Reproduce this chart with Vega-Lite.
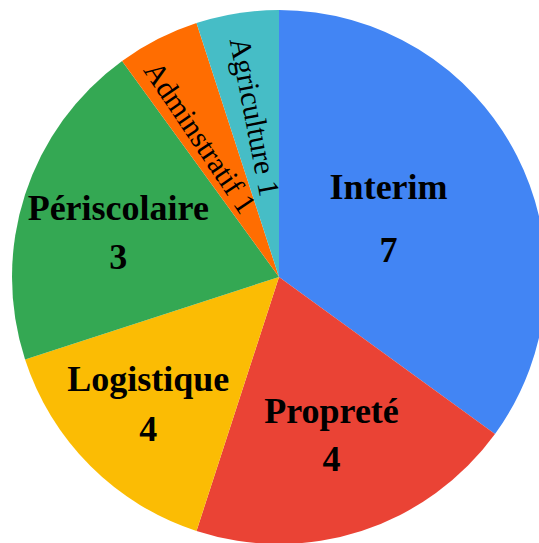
{
  "$schema": "https://vega.github.io/schema/vega-lite/v6.json",
  "autosize": {"type": "fit", "contains": "padding"},
  "width": 539,
  "height": 543,
  "padding": {"left": 19, "top": 11, "right": 0, "bottom": 0},
  "background": "white",
  "view": {"stroke": null},
  "data": {
    "values": [
      {"category": "Interim", "rank": 1, "slice": 7, "shown": "7", "label": "Interim"},
      {"category": "Propreté", "rank": 2, "slice": 4, "shown": "4", "label": "Propreté"},
      {"category": "Logistique", "rank": 3, "slice": 3, "shown": "4", "label": "Logistique"},
      {"category": "Périscolaire", "rank": 4, "slice": 4, "shown": "3", "label": "Périscolaire"},
      {"category": "Adminstratif", "rank": 5, "slice": 1, "shown": "1", "label": "Adminstratif 1"},
      {"category": "Agriculture", "rank": 6, "slice": 1, "shown": "1", "label": "Agriculture 1"}
    ]
  },
  "encoding": {
    "theta": {"field": "slice", "type": "quantitative", "stack": true},
    "order": {"field": "rank", "type": "quantitative"}
  },
  "layer": [
    {
      "mark": {"type": "arc", "outerRadius": 267},
      "encoding": {
        "color": {
          "field": "category",
          "type": "nominal",
          "legend": null,
          "scale": {
            "domain": ["Interim", "Propreté", "Logistique", "Périscolaire", "Adminstratif", "Agriculture"],
            "range": ["#4285F4", "#EA4335", "#FBBC04", "#34A853", "#FF6D01", "#46BDC6"]
          }
        }
      }
    },
    {
      "mark": {"type": "text", "radius": 123, "dy": -33, "font": "Liberation Serif", "fontWeight": "bold", "fontSize": 36, "color": "black"},
      "encoding": {"text": {"condition": {"test": "datum.category === 'Interim'", "field": "label"}, "value": ""}}
    },
    {
      "mark": {"type": "text", "radius": 123, "dy": 30, "font": "Liberation Serif", "fontWeight": "bold", "fontSize": 36, "color": "black"},
      "encoding": {"text": {"condition": {"test": "datum.category === 'Interim'", "field": "shown"}, "value": ""}}
    },
    {
      "mark": {"type": "text", "radius": 170, "dy": -27, "font": "Liberation Serif", "fontWeight": "bold", "fontSize": 36, "color": "black"},
      "encoding": {"text": {"condition": {"test": "datum.category === 'Propreté'", "field": "label"}, "value": ""}}
    },
    {
      "mark": {"type": "text", "radius": 170, "dy": 21, "font": "Liberation Serif", "fontWeight": "bold", "fontSize": 36, "color": "black"},
      "encoding": {"text": {"condition": {"test": "datum.category === 'Propreté'", "field": "shown"}, "value": ""}}
    },
    {
      "mark": {"type": "text", "radius": 185, "dy": -28, "font": "Liberation Serif", "fontWeight": "bold", "fontSize": 36, "color": "black"},
      "encoding": {"text": {"condition": {"test": "datum.category === 'Logistique'", "field": "label"}, "value": ""}}
    },
    {
      "mark": {"type": "text", "radius": 185, "dy": 22, "font": "Liberation Serif", "fontWeight": "bold", "fontSize": 36, "color": "black"},
      "encoding": {"text": {"condition": {"test": "datum.category === 'Logistique'", "field": "shown"}, "value": ""}}
    },
    {
      "mark": {"type": "text", "radius": 169, "dy": -16, "font": "Liberation Serif", "fontWeight": "bold", "fontSize": 36, "color": "black"},
      "encoding": {"text": {"condition": {"test": "datum.category === 'Périscolaire'", "field": "label"}, "value": ""}}
    },
    {
      "mark": {"type": "text", "radius": 169, "dy": 33, "font": "Liberation Serif", "fontWeight": "bold", "fontSize": 36, "color": "black"},
      "encoding": {"text": {"condition": {"test": "datum.category === 'Périscolaire'", "field": "shown"}, "value": ""}}
    },
    {
      "mark": {"type": "text", "radius": 161, "angle": 56, "dy": 8, "font": "Liberation Serif", "fontWeight": "normal", "fontSize": 30, "color": "black"},
      "encoding": {"text": {"condition": {"test": "datum.category === 'Adminstratif'", "field": "label"}, "value": ""}}
    },
    {
      "mark": {"type": "text", "radius": 162, "angle": 79, "font": "Liberation Serif", "fontWeight": "normal", "fontSize": 30, "color": "black"},
      "encoding": {"text": {"condition": {"test": "datum.category === 'Agriculture'", "field": "label"}, "value": ""}}
    }
  ]
}
